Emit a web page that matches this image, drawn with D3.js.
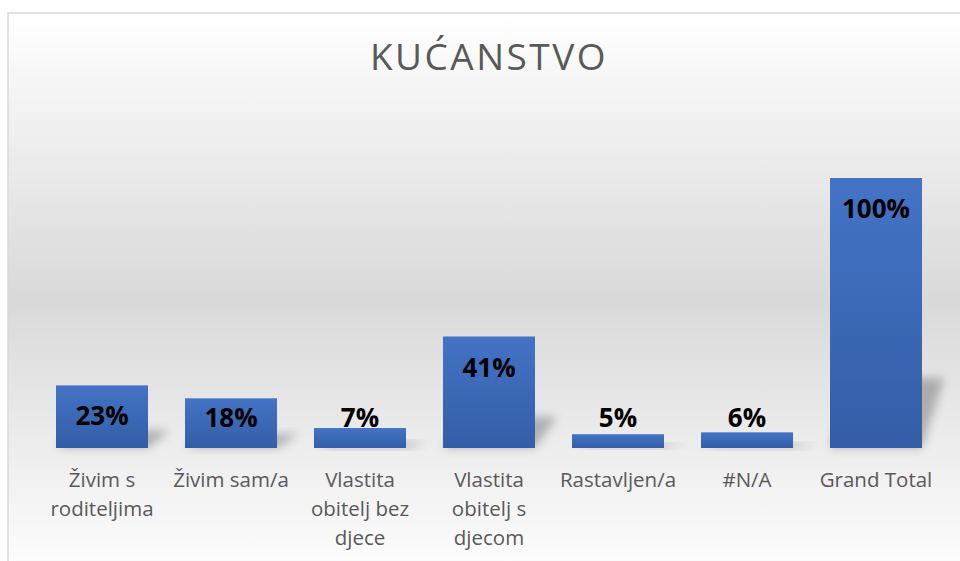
<!DOCTYPE html>
<html>
<head>
<meta charset="utf-8">
<script src="https://cdn.jsdelivr.net/npm/d3@7"></script>
<style>
  html, body { margin: 0; padding: 0; background: #fff; }
  svg { display: block; }
  .title { font-family: "Open Sans", sans-serif; fill: #595959; }
  .cat { font-family: "Open Sans", sans-serif; fill: #595959; }
  .annotation { font-family: "Open Sans", sans-serif; font-weight: bold; fill: #000; }
</style>
</head>
<body>
<div id="barplot"></div>
<script>
// --- Data ---
const title = "KUĆANSTVO";
const categories = [
  "Živim s\nroditeljima",
  "Živim sam/a",
  "Vlastita\nobitelj bez\ndjece",
  "Vlastita\nobitelj s\ndjecom",
  "Rastavljen/a",
  "#N/A",
  "Grand Total"
];
const values = [23.2, 18.4, 7.4, 41.3, 5.1, 5.8, 100];

// plot sizes
const width = 960, height = 561;
const margin = { left: 37.5, right: 19.5 };
const baseline = 448;
const topY = 178;

const data = categories.map((c, i) => ({ term: c, count: values[i] }));

const svg = d3.select("#barplot")
  .append("svg")
  .attr("width", width)
  .attr("height", height);

const defs = svg.append("defs");

// background gradient: white -> grey -> white
const bg = defs.append("linearGradient")
  .attr("id", "bg").attr("x1", 0).attr("y1", 0).attr("x2", 0).attr("y2", 1);
bg.append("stop").attr("offset", "0%").attr("stop-color", "#ffffff");
bg.append("stop").attr("offset", "50%").attr("stop-color", "#d9d9d9");
bg.append("stop").attr("offset", "100%").attr("stop-color", "#ffffff");

// bar gradient
const barGrad = defs.append("linearGradient")
  .attr("id", "barGrad").attr("x1", 0).attr("y1", 0).attr("x2", 0).attr("y2", 1);
barGrad.append("stop").attr("offset", "0%").attr("stop-color", "#4473c6");
barGrad.append("stop").attr("offset", "100%").attr("stop-color", "#335ea7");

// soft shadow
defs.append("filter").attr("id", "blur")
  .attr("x", "-50%").attr("y", "-50%").attr("width", "200%").attr("height", "200%")
  .append("feGaussianBlur").attr("stdDeviation", 5);

// chart area + border
svg.append("rect")
  .attr("x", 8).attr("y", 13)
  .attr("width", width + 10).attr("height", height + 10)
  .attr("fill", "url(#bg)")
  .attr("stroke", "#d9d9d9")
  .attr("stroke-width", 1.5);

// title
svg.append("text")
  .attr("class", "title")
  .attr("x", 489).attr("y", 70)
  .attr("text-anchor", "middle")
  .style("font-size", "37px")
  .style("letter-spacing", "2.5px")
  .text(title);

// --- Scales ---
const x = d3.scaleBand()
  .domain(categories)
  .range([margin.left, width - margin.right])
  .paddingInner(0.2868)
  .paddingOuter(0.1434);

const y = d3.scaleLinear()
  .domain([0, 100])
  .range([baseline, topY]);

// --- Shadows ---
svg.append("g")
  .attr("class", "shadows")
  .selectAll("path")
  .data(data)
  .enter().append("path")
  .attr("filter", "url(#blur)")
  .attr("fill", "#000")
  .attr("fill-opacity", 0.25)
  .attr("d", d => {
    const x0 = x(d.term), x1 = x0 + x.bandwidth();
    const h = y(0) - y(d.count);
    const dy = Math.min(h * 0.28, 70);
    const dx = 22;
    return `M${x0},${y(0)}L${x1},${y(0)}L${x1 + dx},${y(0) - dy}L${x0 + dx},${y(0) - dy}Z`;
  });

// --- Bars ---
svg.append("g")
  .attr("class", "bars")
  .selectAll("rect")
  .data(data)
  .enter().append("rect")
  .attr("x", d => x(d.term))
  .attr("y", d => y(d.count))
  .attr("width", x.bandwidth())
  .attr("height", d => y(0) - y(d.count))
  .attr("fill", "url(#barGrad)");

// --- Bar annotations ---
svg.append("g")
  .attr("class", "bar--annot")
  .selectAll("text")
  .data(data)
  .enter().append("text")
  .attr("class", "annotation")
  .attr("x", d => x(d.term) + x.bandwidth() / 2)
  .attr("y", d => Math.min(y(d.count) + 31, y(0) - 30))
  .attr("dy", "0.35em")
  .attr("text-anchor", "middle")
  .style("font-size", "26px")
  .text(d => Math.round(d.count) + "%");

// --- Category labels ---
const cats = svg.append("g")
  .attr("class", "x-label")
  .selectAll("text")
  .data(data)
  .enter().append("text")
  .attr("class", "cat")
  .attr("text-anchor", "middle")
  .attr("x", d => x(d.term) + x.bandwidth() / 2)
  .attr("y", 487)
  .style("font-size", "20.5px");

cats.selectAll("tspan")
  .data(d => d.term.split("\n"))
  .enter().append("tspan")
  .attr("x", function() { return d3.select(this.parentNode).attr("x"); })
  .attr("dy", (d, i) => i === 0 ? 0 : 29)
  .text(d => d);
</script>
</body>
</html>
